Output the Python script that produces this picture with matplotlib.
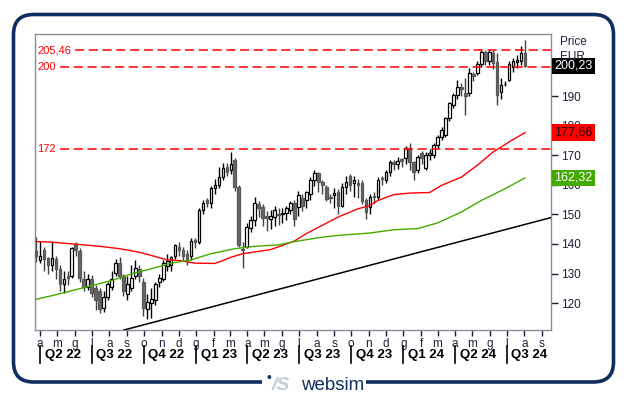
import numpy as np
import matplotlib
matplotlib.use('Agg')
import matplotlib.pyplot as plt
import matplotlib.dates as mdates
from matplotlib.patches import FancyBboxPatch, Rectangle
from matplotlib.transforms import IdentityTransform

plt.rcParams['font.family'] = ['Liberation Sans', 'DejaVu Sans']

# weekly candles, first week ending 2022-03-25
first_week = np.datetime64('2022-03-25')
open_ = [137.5, 134.5, 138, 135.4, 133, 135, 131.5, 126.5, 129.3, 129,
         140, 137.5, 128, 125.5, 128, 125, 124, 118.5, 122, 125.5,
         130.3, 133.4, 129.3, 123, 125, 129, 131.5, 127, 118, 120,
         121, 127, 128, 132.7, 133, 136, 139, 138, 136.5, 136,
         141.5, 140.5, 151.4, 155, 153.7, 158.8, 160, 162.5, 166, 165,
         168.3, 159.3, 138.3, 139, 145.3, 148, 153.5, 152.5, 149.5, 148.5,
         149, 150.2, 150, 150.3, 151.4, 154, 152.5, 155.4, 154.7, 157,
         161.5, 164, 161, 159.3, 156, 156.5, 157.6, 153, 159.3, 163,
         160.5, 160.5, 160.5, 154.7, 152.5, 156.3, 155.9, 162.3, 161.5, 164.4,
         167.7, 167, 168.6, 168.9, 172.3, 167.7, 164.9, 170.6, 165.6, 170,
         170, 173.4, 176.2, 176.8, 182.5, 187, 190.3, 193, 191, 190.9,
         197.5, 197.7, 201, 204.8, 202, 204.5, 201.6, 191.5, 194, 195.4,
         200, 201.5, 202, 204.6]
high = [142.5, 141, 139, 135.5, 141, 136, 133, 131, 131, 139,
        140.5, 138.5, 131, 130, 129.5, 126, 125, 124, 127, 131,
        135, 135.5, 130, 129, 133, 134.5, 133, 128.5, 123, 125,
        127, 130, 134.5, 136.5, 136, 140, 140.5, 139, 138, 142,
        142, 152, 155, 155.5, 159.5, 162, 166, 167.5, 167.5, 171,
        169, 160, 140.6, 147, 149.5, 156, 154.5, 153.5, 151, 151.5,
        153, 152, 152, 153, 154.5, 155, 158, 157, 158, 162.5,
        165, 164.5, 161.5, 160, 157, 159, 158.5, 160.5, 163, 163.5,
        163, 162, 161.5, 155.5, 157, 157.5, 162.5, 163, 165, 168.5,
        168.5, 169.5, 169, 173, 174, 168, 170, 171.5, 171, 172,
        174, 177, 179.5, 183, 188, 191, 195.5, 194.5, 196, 199.5,
        198, 202, 205.5, 205.5, 205.5, 205.5, 204.5, 196, 195, 202,
        203, 204, 207, 209]
low = [134, 133.5, 131, 130, 131, 128, 124, 123.5, 126, 128.5,
       136, 127, 124, 124.5, 122, 117.5, 116.5, 117, 121, 124.5,
       129, 128, 122.5, 121, 124, 128, 127, 115.5, 114.5, 115,
       119.5, 125.5, 127.5, 131, 131, 135, 136, 134.5, 133, 134.5,
       138.5, 140, 150, 152.5, 152, 157, 159, 161.5, 163, 163.5,
       158, 139, 131.7, 138.5, 144, 146, 149, 146, 144.5, 145,
       146, 146.5, 147, 148, 150, 146, 149.5, 151, 152, 155,
       159.5, 157.5, 157, 154.5, 154, 152, 150, 152.5, 157, 158,
       156, 155.5, 153.5, 148.5, 150, 154, 155, 160, 160.5, 163,
       165, 165.5, 166, 167, 165, 161.5, 164, 167, 165, 168.5,
       169, 172.5, 175, 176, 181.5, 186, 189, 190, 183.5, 190,
       195, 197, 200, 200.5, 200.5, 199, 187, 189, 193.5, 195,
       198, 199.5, 200.5, 200]
close = [136, 136, 135, 133, 135.4, 131.5, 126.5, 128.3, 128.5, 138.5,
         138, 128.5, 125.5, 128, 123.5, 121, 118, 122, 126.5, 128,
         133.4, 129.3, 124, 126.5, 128.5, 131.7, 129, 118.5, 120.5, 121.5,
         126.5, 128.5, 133.5, 134.4, 135.6, 139.5, 138, 136, 135, 141,
         140.5, 151.4, 154, 154, 158.8, 160, 162.6, 165.6, 164.3, 167.2,
         159.3, 139.5, 137.8, 145.7, 148, 153.7, 152, 148.7, 148.7, 149.3,
         151.4, 149.8, 150.6, 152, 153.7, 148.5, 156.4, 153, 157.6, 161.5,
         164, 161, 160, 155.3, 155.5, 157.2, 153, 159.3, 161, 160,
         161.5, 160, 154.5, 150.8, 155.9, 155.8, 161.5, 161.8, 164.4, 167.7,
         167, 168, 168.2, 172.3, 167.7, 164.4, 169.4, 169, 170, 170.8,
         173.4, 176.2, 178.5, 182.5, 187.6, 190.3, 193.1, 192.3, 190, 197.7,
         196.8, 201, 205, 202, 205, 201.2, 190.3, 193.7, 194.2, 201,
         202, 202.3, 204.6, 200.23]

# moving averages (week index -> value)
red_idx = [0, 4, 11, 16, 21, 26, 29, 33, 36, 40, 45, 47, 49, 52, 56, 59, 62, 65,
           68, 72, 76, 81, 84, 86, 90, 94, 99, 102, 107, 111, 115, 119, 123]
red_ma = [140.8, 140.6, 139.8, 139.2, 138.4, 137.2, 136.1, 134.6, 134.4, 133.5,
          133.4, 134.4, 135.5, 136.7, 137.5, 138.1, 139.5, 141.0, 143.5, 146.3,
          149.1, 151.9, 153.0, 154.7, 156.7, 157.2, 157.4, 159.8, 162.6, 166.6,
          171.1, 174.5, 177.66]
green_idx = [0, 4, 9, 14, 19, 24, 29, 34, 39, 44, 50, 55, 61, 65, 72, 76, 84,
             90, 96, 101, 107, 112, 118, 123]
green_ma = [121.3, 122.5, 124.2, 125.9, 127.6, 129.9, 131.6, 133.5, 134.6, 136.7,
            138.4, 139.2, 139.7, 140.8, 142.3, 142.9, 143.7, 144.8, 145.2, 147.1,
            150.8, 154.7, 158.7, 162.32]

# support trendline, two anchor points
trend_dates = ['2022-08-19', '2024-08-02']
trend_vals = [110.5, 146.6]

levels = [205.46, 200, 172]
level_labels = ['205,46', '200', '172']

month_letters = ['a', 'm', 'g', 'l', 'a', 's', 'o', 'n', 'd', 'g', 'f', 'm']
quarters = ['Q2 22', 'Q3 22', 'Q4 22', 'Q1 23', 'Q2 23', 'Q3 23', 'Q4 23',
            'Q1 24', 'Q2 24', 'Q3 24']

W, H = 627, 397
fig = plt.figure(figsize=(W / 100, H / 100), dpi=100)
fig.patch.set_facecolor('white')

# outer rounded frame
frame = FancyBboxPatch((13.5, 15), 600, 367.5,
                       boxstyle='round,pad=0,rounding_size=20',
                       transform=IdentityTransform(), fill=False,
                       ec='#0f2d5e', lw=2.6)
fig.add_artist(frame)
fig.add_artist(Rectangle((262, 5), 104, 16, transform=IdentityTransform(),
                         fc='white', ec='none'))
fig.text(269 / W, 1 - 378 / H, '\u2022', color='#0f2d5e', fontsize=10,
         ha='center', va='center')
fig.text(272 / W, 1 - 385 / H, '/S', color='#c3ccda', fontsize=14,
         fontweight='bold', style='italic', ha='left', va='center')
fig.text(301 / W, 1 - 385 / H, 'websim', color='#0f2d5e', fontsize=13.5,
         ha='left', va='center')

ax = fig.add_axes([35 / W, 1 - 330 / H, 516 / W, 296 / H])

o = np.array(open_)
hi = np.array(high)
lo = np.array(low)
c = np.array(close)
dates = first_week + np.arange(len(c)) * np.timedelta64(7, 'D')
x = mdates.date2num(dates)
up = c >= o

# candles
ax.vlines(x[up], lo[up], hi[up], color='black', lw=1, zorder=2)
ax.vlines(x[~up], lo[~up], hi[~up], color='#404040', lw=1, zorder=2)
body_lo = np.minimum(o, c)
body_h = np.maximum(np.abs(c - o), 0.25)
ax.bar(x[up], body_h[up], bottom=body_lo[up], width=4.6, facecolor='white',
       edgecolor='black', lw=0.9, zorder=3)
ax.bar(x[~up], body_h[~up], bottom=body_lo[~up], width=4.6, facecolor='#686868',
       edgecolor='#585858', lw=0.9, zorder=3)

# moving averages and trendline
ax.plot(x[red_idx], red_ma, color='#ff0000', lw=1, zorder=4)
ax.plot(x[green_idx], green_ma, color='#44aa00', lw=1, zorder=4)
tx = mdates.date2num(np.array(trend_dates, dtype='datetime64[D]'))
ax.axline((tx[0], trend_vals[0]), (tx[1], trend_vals[1]), color='black', lw=1.1, zorder=4)

# horizontal levels
starts = [0.0775, 0.0485, 0.0485]
for lev, lab, s in zip(levels, level_labels, starts):
    ax.axhline(lev, xmin=s, xmax=1, color='#ff0000', lw=1.1, dashes=(6, 3), zorder=5)
    ax.text(0.004, lev, lab, transform=ax.get_yaxis_transform(), color='#ff0000',
            fontsize=8, ha='left', va='center', zorder=6)

ax.set_xlim(x[0] - 1.8, x[-1] + 45.8)
ax.set_ylim(110.9, 211.0)

for sp in ax.spines.values():
    sp.set_color('#8c8c9c')
    sp.set_linewidth(1)

# y axis on the right
ax.yaxis.tick_right()
ax.set_yticks(range(120, 201, 10))
ax.tick_params(axis='y', direction='out', length=5, width=1, pad=2,
               labelsize=8.5, colors='#1e1e3c')

# month ticks and quarter labels
months = np.arange(np.datetime64('2022-04'), np.datetime64('2024-10'))
mx = mdates.date2num(months.astype('datetime64[D]'))
ax.set_xticks(mx)
ax.set_xticklabels([month_letters[i % 12] for i in range(len(mx))])
ax.tick_params(axis='x', direction='out', length=4, width=1, pad=1.5,
               labelsize=8.5, colors='#1e1e3c')

qx = mx[::3]
xt = ax.get_xaxis_transform()
for q, qpos in zip(quarters, qx):
    ax.plot([qpos, qpos], [-0.054, -0.112], transform=xt, color='black',
            lw=1.2, clip_on=False)
    ax.text(qpos + 8, -0.083, q, transform=xt, fontsize=9.5, fontweight='bold',
            ha='left', va='center', color='black')

# right-side labels
fig.text(560 / W, 1 - 42 / H, 'Price', fontsize=8.5, color='#1e1e3c', va='center')
fig.text(560 / W, 1 - 57 / H, 'EUR', fontsize=8.5, color='#1e1e3c', va='center')

yt = ax.get_yaxis_transform()
boxes = [(close[-1], '200,23', 'black', 'white'),
         (red_ma[-1], '177,66', '#ff0000', '#2a0000'),
         (green_ma[-1], '162,32', '#44aa00', 'white')]
for val, txt, bg, fg in boxes:
    ax.text(1.006, val, txt, transform=yt, color=fg, fontsize=9, ha='left',
            va='center', zorder=10, clip_on=False,
            bbox=dict(boxstyle='square,pad=0.18', fc=bg, ec='none'))

fig.savefig('out.png', dpi=100, facecolor='white')
